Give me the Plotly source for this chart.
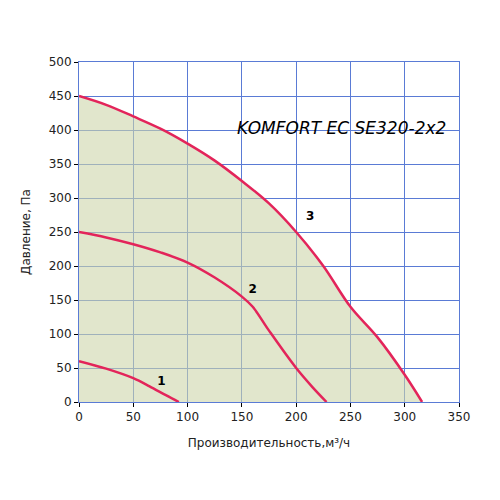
import plotly.graph_objects as go

x3 = [0, 25, 50, 75, 100, 125, 150, 175, 200, 225, 250, 275, 300, 316]
y3 = [450, 437, 420, 402, 380, 355, 325, 292, 250, 200, 140, 95, 40, 0]
x2 = [0, 25, 50, 75, 100, 125, 150, 160, 175, 200, 215, 228]
y2 = [250, 242, 232, 220, 205, 183, 155, 140, 105, 50, 22, 0]
x1 = [0, 25, 50, 65, 80, 92]
y1 = [60, 49, 35, 23, 10, 0]
labels = ["<b>1</b>", "<b>2</b>", "<b>3</b>"]
label_x = [76, 160, 213]
label_y = [30, 165, 272]

red = "#e3245a"
fig = go.Figure()
fig.add_trace(go.Scatter(x=x3, y=y3, mode="lines", line=dict(color=red, width=2.5, shape="spline"),
                         fill="tozeroy", fillcolor="rgba(205,214,170,0.6)"))
fig.add_trace(go.Scatter(x=x2, y=y2, mode="lines", line=dict(color=red, width=2.5, shape="spline")))
fig.add_trace(go.Scatter(x=x1, y=y1, mode="lines", line=dict(color=red, width=2.5, shape="spline")))
fig.add_trace(go.Scatter(x=label_x, y=label_y, mode="text", text=labels,
                         textfont=dict(size=12, color="black", family="DejaVu Sans")))
fig.add_annotation(x=0.97, xref="paper", xanchor="right", y=0.84, yref="paper", showarrow=False,
                   text="<i>KOMFORT EC SE320-2x2</i>",
                   font=dict(size=17, color="black", family="DejaVu Sans"))
grid = "#5a7bd5"
fig.update_xaxes(range=[0, 350], dtick=50, showgrid=True, gridcolor=grid, gridwidth=1,
                 showline=True, linecolor=grid, mirror=True, zeroline=False,
                 title=dict(text="Производительность,м³/ч", font=dict(size=12)),
                 ticks="outside", tickcolor="black", ticklen=4)
fig.update_yaxes(range=[0, 500], dtick=50, showgrid=True, gridcolor=grid, gridwidth=1,
                 showline=True, linecolor=grid, mirror=True, zeroline=False,
                 title=dict(text="Давление, Па", font=dict(size=12)),
                 ticks="outside", tickcolor="black", ticklen=4)
fig.update_layout(width=500, height=500, showlegend=False, plot_bgcolor="white", paper_bgcolor="white",
                  margin=dict(l=71, r=49, t=54, b=106),
                  font=dict(family="DejaVu Sans", size=12, color="#222"))
fig.write_html("out.html")
